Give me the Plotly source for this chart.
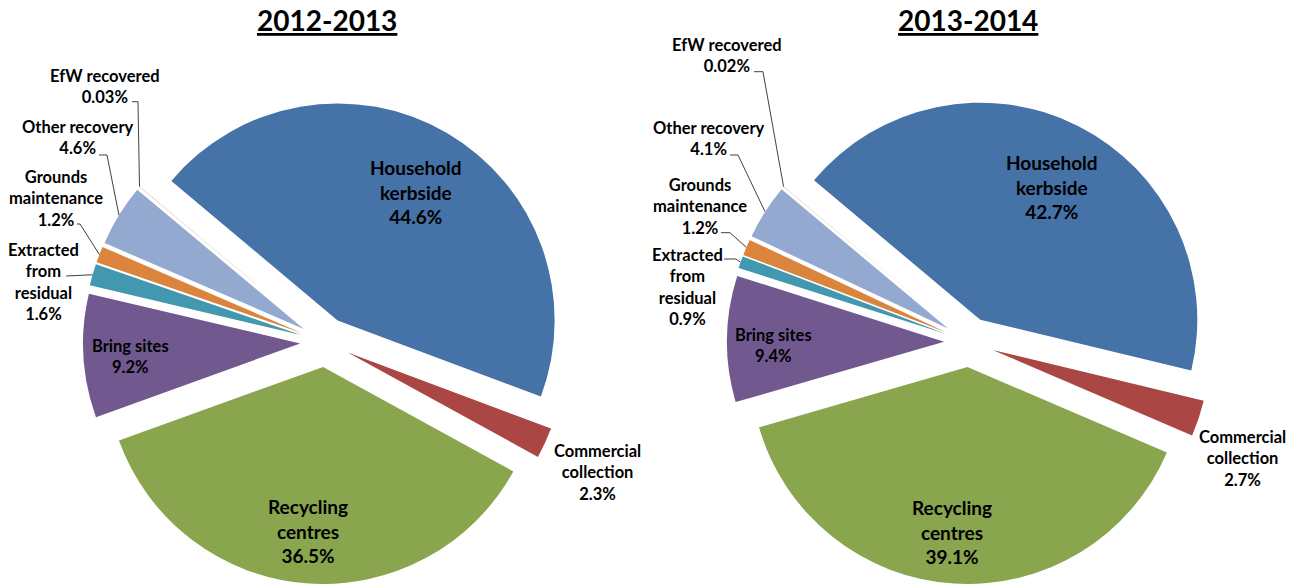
import math
import plotly.graph_objects as go

W, H = 1296, 587

# ---------------- data ----------------
categories = ["Household kerbside", "Commercial collection", "Recycling centres", "Bring sites",
              "Extracted from residual", "Grounds maintenance", "Other recovery", "EfW recovered"]
label_lines = ["Household<br>kerbside", "Commercial<br>collection", "Recycling<br>centres", "Bring sites",
               "Extracted<br>from<br>residual", "Grounds<br>maintenance", "Other recovery", "EfW recovered"]
values_2012 = [44.6, 2.3, 36.5, 9.2, 1.6, 1.2, 4.6, 0.03]
values_2013 = [42.7, 2.7, 39.1, 9.4, 0.9, 1.2, 4.1, 0.02]
pct_2012 = ["44.6%", "2.3%", "36.5%", "9.2%", "1.6%", "1.2%", "4.6%", "0.03%"]
pct_2013 = ["42.7%", "2.7%", "39.1%", "9.4%", "0.9%", "1.2%", "4.1%", "0.02%"]
titles = ["2012-2013", "2013-2014"]
colors = ["#4572A7", "#AA4643", "#89A54E", "#71588F", "#4198AF", "#DB843D", "#93A9CF", "#D19392"]

# ---------------- layout / style ----------------
PULL = 0.115
ROT = -50
DOM_Y = [0.0051, 0.8296]
DOM_X = [[0.0508, 0.4508], [0.5477, 0.9477]]
FONT = "Lato"
SMALL = 16.5
BIG = 19

# label placement (pixel centres), font size, leader (label end, elbow) or None
label_pos = [
    {0: (416, 192, BIG, None), 1: (597, 472, SMALL, None), 2: (308, 531, BIG, None), 3: (130, 356, SMALL, None),
     4: (43, 282, SMALL, [(66, 276)]), 5: (56, 198, SMALL, [(77, 224), (80, 224)]),
     6: (78, 138, SMALL, [(99, 155), (107, 155)]), 7: (104.5, 86, SMALL, [(132, 101.7), (138, 101.7)])},
    {0: (1052, 187, BIG, None), 1: (1242, 458, SMALL, None), 2: (952, 532, BIG, None), 3: (773, 345, SMALL, None),
     4: (687, 287, SMALL, [(724, 259), (736, 259)]), 5: (700, 206, SMALL, [(721, 232.7), (730, 232.7)]),
     6: (709, 139, SMALL, [(730, 155), (738, 155)]), 7: (727, 56, SMALL, [(754, 71.7), (763, 71.7)])},
]
title_pos = [(327, 20), (968, 20)]


def px(x):
    return x / W


def py(y):
    return 1 - y / H


fig = go.Figure()
annotations = []
shapes = []

for k, (vals, pcts) in enumerate([(values_2012, pct_2012), (values_2013, pct_2013)]):
    fig.add_trace(go.Pie(
        labels=categories, values=vals, sort=False, direction="clockwise", rotation=ROT,
        pull=[PULL] * len(vals), marker=dict(colors=colors, line=dict(width=0)),
        textinfo="none", hoverinfo="label+percent", showlegend=False,
        domain=dict(x=DOM_X[k], y=DOM_Y),
    ))

    # pie geometry (same formulas plotly uses)
    x0, x1 = DOM_X[k]
    boxW = W * (x1 - x0)
    boxH = H * (DOM_Y[1] - DOM_Y[0])
    cx = W * (x0 + x1) / 2
    cy = H * (1 - DOM_Y[0]) - boxH / 2
    r = min(boxW, boxH) / 2 / (1 + PULL)
    total = sum(vals)
    start = ROT
    for i, v in enumerate(vals):
        span = 360 * v / total
        mid = math.radians(start + span / 2)
        start += span
        lx, ly, fs, leader = label_pos[k][i]
        annotations.append(dict(
            x=px(lx), y=py(ly), xref="paper", yref="paper", showarrow=False,
            xanchor="center", yanchor="middle", align="center",
            text="<b>" + label_lines[i] + "<br>" + pcts[i] + "</b>",
            font=dict(family=FONT, size=fs, color="#000000"),
        ))
        if leader:
            dist = r * (1 + PULL)
            ax_ = cx + dist * math.sin(mid)
            ay_ = cy - dist * math.cos(mid)
            pts = leader + [(ax_, ay_)]
            path = "M " + " L ".join(f"{px(a):.5f},{py(b):.5f}" for a, b in pts)
            shapes.append(dict(type="path", path=path, xref="paper", yref="paper",
                               line=dict(color="#404040", width=1)))

    tx, ty = title_pos[k]
    annotations.append(dict(
        x=px(tx), y=py(ty), xref="paper", yref="paper", showarrow=False,
        xanchor="center", yanchor="middle",
        text="<b><u>" + titles[k] + "</u></b>",
        font=dict(family=FONT, size=28, color="#000000"),
    ))

fig.update_layout(
    width=W, height=H, margin=dict(l=0, r=0, t=0, b=0),
    paper_bgcolor="white", plot_bgcolor="white",
    annotations=annotations, shapes=shapes, showlegend=False,
)

fig.write_html("out.html", config={"displayModeBar": False},
               post_script="document.body.style.margin='0';document.body.style.overflow='hidden';")
